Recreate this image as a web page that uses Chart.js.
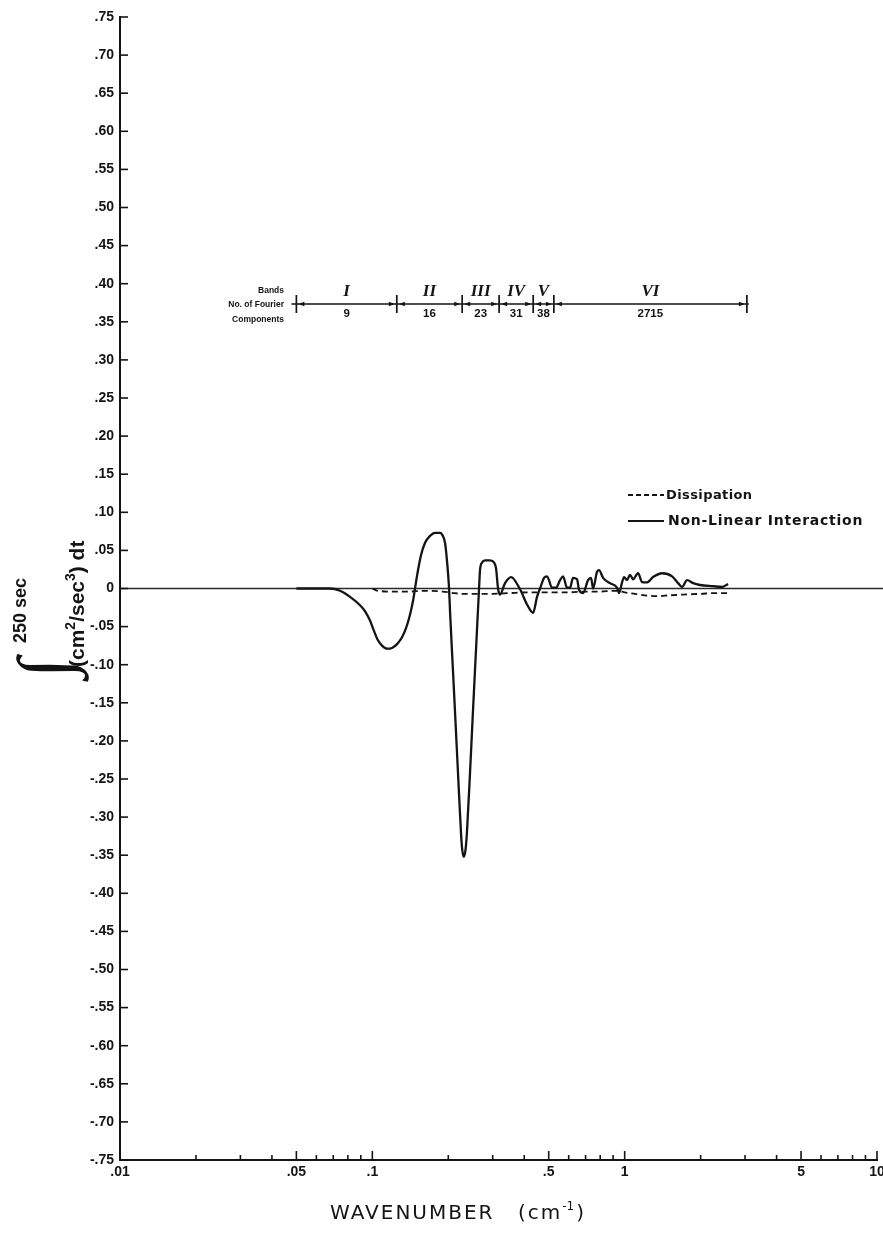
<!DOCTYPE html>
<html>
<head>
<meta charset="utf-8">
<script src="https://cdn.jsdelivr.net/npm/chart.js@4/dist/chart.umd.min.js"></script>
<style>
  html, body { margin: 0; padding: 0; background: #fff; }
  canvas { display: block; }
</style>
</head>
<body>
<canvas id="chart" width="883" height="1240"></canvas>
<script>
// Non-linear interaction term, integrated over 250 s, against wavenumber (cm^-1)
const interactionK = [0.05, 0.0566, 0.0679, 0.0745, 0.0816, 0.0894, 0.0936, 0.0979, 0.1016, 0.1053,
  0.1092, 0.1144, 0.1197, 0.1253, 0.1311, 0.1360, 0.1411, 0.1450, 0.1476, 0.1517,
  0.1560, 0.1618, 0.1693, 0.1772, 0.1855, 0.1888, 0.1941, 0.1978, 0.2014, 0.2032,
  0.2089, 0.2147, 0.2206, 0.2247, 0.2267, 0.2298, 0.2330, 0.2352, 0.2373, 0.2440,
  0.2506, 0.2576, 0.2648, 0.2673, 0.2722, 0.2797, 0.2927, 0.3038, 0.3093, 0.3149,
  0.3207, 0.3357, 0.3546, 0.3850, 0.4104, 0.4334, 0.4495, 0.4621, 0.4792, 0.4925,
  0.5155, 0.5346, 0.5546, 0.5700, 0.5910, 0.6074, 0.6243, 0.6475, 0.6596, 0.6841,
  0.7160, 0.7358, 0.7495, 0.7773, 0.7916, 0.8211, 0.8752, 0.9330, 0.9502, 0.9766,
  0.9945, 1.022, 1.050, 1.080, 1.130, 1.172, 1.227, 1.296, 1.407, 1.541,
  1.628, 1.689, 1.767, 1.867, 1.991, 2.241, 2.433, 2.570];
const interactionV = [0, 0, 0, -0.003, -0.011, -0.022, -0.030, -0.042, -0.056, -0.068,
  -0.075, -0.079, -0.078, -0.073, -0.064, -0.052, -0.034, -0.016, 0, 0.024,
  0.044, 0.060, 0.069, 0.073, 0.073, 0.071, 0.060, 0.035, 0, -0.030,
  -0.110, -0.190, -0.270, -0.322, -0.340, -0.352, -0.347, -0.336, -0.318, -0.240,
  -0.160, -0.080, 0, 0.025, 0.034, 0.037, 0.037, 0.034, 0.026, 0,
  -0.008, 0.007, 0.015, -0.001, -0.021, -0.032, -0.011, 0, 0.014, 0.016,
  0.001, 0.001, 0.011, 0.016, 0.001, 0.001, 0.014, 0.012, -0.002, -0.006,
  0.011, 0.014, 0.000, 0.022, 0.024, 0.014, 0.007, 0.001, -0.006, 0.008,
  0.015, 0.011, 0.018, 0.012, 0.020, 0.0085, 0.008, 0.015, 0.020, 0.016,
  0.007, 0.002, 0.011, 0.007, 0.0046, 0.003, 0.002, 0.006];

// Dissipation term over the same interval
const dissipationK = [0.1, 0.105, 0.12, 0.14, 0.16, 0.19, 0.21, 0.23, 0.26, 0.3,
  0.35, 0.42, 0.5, 0.6, 0.7, 0.8, 0.9, 0.95, 1.0, 1.1,
  1.2, 1.35, 1.5, 1.7, 2.0, 2.3, 2.57];
const dissipationV = [0, -0.003, -0.004, -0.004, -0.003, -0.004, -0.006, -0.007, -0.007, -0.007,
  -0.006, -0.005, -0.005, -0.005, -0.004, -0.004, -0.003, -0.003, -0.005, -0.007,
  -0.009, -0.010, -0.009, -0.008, -0.007, -0.006, -0.006];

// Axis ticks
const yTickLabels = ['.75', '.70', '.65', '.60', '.55', '.50', '.45', '.40', '.35', '.30',
  '.25', '.20', '.15', '.10', '.05', '0', '-.05', '-.10', '-.15', '-.20',
  '-.25', '-.30', '-.35', '-.40', '-.45', '-.50', '-.55', '-.60', '-.65', '-.70', '-.75'];
const xTickValues = [0.01, 0.02, 0.03, 0.04, 0.05, 0.06, 0.07, 0.08, 0.09,
  0.1, 0.2, 0.3, 0.4, 0.5, 0.6, 0.7, 0.8, 0.9,
  1, 2, 3, 4, 5, 6, 7, 8, 9, 10];
const xTickLabelText = { '0.01': '.01', '0.05': '.05', '0.1': '.1', '0.5': '.5', '1': '1', '5': '5', '10': '10' };

// Wavenumber bands and their number of Fourier components
const bandEdges = [0.05, 0.125, 0.227, 0.318, 0.434, 0.524, 3.05];
const bandNames = ['I', 'II', 'III', 'IV', 'V', 'VI'];
const bandComponents = ['9', '16', '23', '31', '38', '2715'];

const INK = '#141414';
const SANS = '"Liberation Sans", Arial, sans-serif';
const WIDE = '"DejaVu Sans", Verdana, sans-serif';
const SERIF = '"Liberation Serif", "Times New Roman", serif';

function pairs(ks, vs) { return ks.map((k, i) => ({ x: k, y: vs[i] })); }

function line(ctx, x1, y1, x2, y2) {
  ctx.beginPath(); ctx.moveTo(x1, y1); ctx.lineTo(x2, y2); ctx.stroke();
}

function arrow(ctx, tipX, y, dir) {
  // dir = -1 points left, +1 points right
  ctx.beginPath();
  ctx.moveTo(tipX, y);
  ctx.lineTo(tipX - dir * 6, y - 2.3);
  ctx.lineTo(tipX - dir * 6, y + 2.3);
  ctx.closePath();
  ctx.fill();
}

const decorations = {
  id: 'decorations',
  beforeDatasetsDraw(chart) {
    const { ctx, chartArea } = chart;
    const ys = chart.scales.y;
    const y0 = ys.getPixelForValue(0);
    ctx.save();
    ctx.strokeStyle = '#2a2a2a';
    ctx.lineWidth = 1.5;
    line(ctx, chartArea.left, y0, chart.width, y0);
    ctx.restore();
  },
  afterDraw(chart) {
    const { ctx, chartArea } = chart;
    const xs = chart.scales.x, ys = chart.scales.y;
    ctx.save();
    ctx.strokeStyle = INK;
    ctx.fillStyle = INK;

    // inward tick marks
    ctx.lineWidth = 1.6;
    ys.ticks.forEach(t => {
      const py = ys.getPixelForValue(t.value);
      line(ctx, chartArea.left, py, chartArea.left + 8, py);
    });
    xs.ticks.forEach(t => {
      const px = xs.getPixelForValue(t.value);
      const len = xTickLabelText[String(t.value)] ? 9 : 5;
      line(ctx, px, chartArea.bottom, px, chartArea.bottom - len);
    });

    // band ruler
    const by = 304;
    const ex = bandEdges.map(k => xs.getPixelForValue(k));
    ctx.lineWidth = 1.3;
    line(ctx, ex[0] - 5, by, ex[ex.length - 1] + 2, by);
    ctx.lineWidth = 1.7;
    ex.forEach(px => line(ctx, px, by - 9, px, by + 9));
    for (let i = 0; i < ex.length - 1; i++) {
      arrow(ctx, ex[i] + 2, by, -1);
      arrow(ctx, ex[i + 1] - 2, by, 1);
    }
    ctx.textAlign = 'center';
    ctx.textBaseline = 'middle';
    for (let i = 0; i < bandNames.length; i++) {
      const cx = xs.getPixelForValue(Math.sqrt(bandEdges[i] * bandEdges[i + 1]));
      ctx.font = 'italic bold 17px ' + SERIF;
      ctx.fillText(bandNames[i], cx, 292);
      ctx.font = 'bold 11.5px ' + SANS;
      ctx.fillText(bandComponents[i], cx, 314);
    }
    ctx.textAlign = 'right';
    ctx.font = 'bold 8.5px ' + SANS;
    ctx.fillText('Bands', 284, 291);
    ctx.fillText('No. of Fourier', 284, 305);
    ctx.fillText('Components', 284, 320);

    // legend
    ctx.lineWidth = 1.9;
    ctx.setLineDash([5, 3]);
    line(ctx, 628, 495, 664, 495);
    ctx.setLineDash([]);
    ctx.lineWidth = 2.2;
    line(ctx, 628, 521, 664, 521);
    ctx.textAlign = 'left';
    ctx.font = 'bold 13px ' + WIDE;
    ctx.letterSpacing = '0.4px';
    ctx.fillText('Dissipation', 666, 496);
    ctx.font = 'bold 14px ' + WIDE;
    ctx.letterSpacing = '0.75px';
    ctx.fillText('Non-Linear Interaction', 668, 521);

    // x-axis title
    ctx.textBaseline = 'alphabetic';
    ctx.font = '20px ' + WIDE;
    ctx.letterSpacing = '2px';
    ctx.fillText('WAVENUMBER', 330, 1219);
    let tx = 518;
    ctx.fillText('(cm', tx, 1219);
    tx += ctx.measureText('(cm').width;
    ctx.font = '12px ' + WIDE;
    ctx.letterSpacing = '0px';
    ctx.fillText('-1', tx, 1210);
    tx += ctx.measureText('-1').width + 2;
    ctx.font = '20px ' + WIDE;
    ctx.fillText(')', tx, 1219);

    // y-axis title, rotated
    ctx.save();
    ctx.translate(0, 680);
    ctx.rotate(-Math.PI / 2);
    ctx.font = 'italic 74px ' + SERIF;
    ctx.textBaseline = 'middle';
    ctx.fillText('\u222B', 2, 50);
    ctx.textBaseline = 'alphabetic';
    ctx.font = 'bold 18px ' + SANS;
    ctx.fillText('250 sec', 37, 26);
    let u = 13;
    const part = (s, size, rise) => {
      ctx.font = 'bold ' + size + 'px ' + SANS;
      ctx.fillText(s, u, 84 - rise);
      u += ctx.measureText(s).width;
    };
    part('(cm', 21, 0);
    part('2', 14, 9);
    part('/sec', 21, 0);
    part('3', 14, 9);
    part(') dt', 21, 0);
    ctx.restore();

    ctx.restore();
  }
};

new Chart(document.getElementById('chart'), {
  type: 'line',
  data: {
    datasets: [
      {
        label: 'Dissipation',
        data: pairs(dissipationK, dissipationV),
        borderColor: INK,
        borderWidth: 1.8,
        borderDash: [6, 4],
        pointRadius: 0,
        cubicInterpolationMode: 'monotone',
        fill: false
      },
      {
        label: 'Non-Linear Interaction',
        data: pairs(interactionK, interactionV),
        borderColor: INK,
        borderWidth: 2.3,
        pointRadius: 0,
        cubicInterpolationMode: 'monotone',
        fill: false
      }
    ]
  },
  options: {
    responsive: false,
    animation: false,
    devicePixelRatio: 1,
    layout: { padding: { top: 17, right: 6, left: 0, bottom: 0 } },
    plugins: { legend: { display: false }, tooltip: { enabled: false } },
    scales: {
      x: {
        type: 'logarithmic',
        min: 0.01,
        max: 10,
        afterBuildTicks: s => { s.ticks = xTickValues.map(v => ({ value: v })); },
        afterFit: s => { s.height = 80; s.paddingLeft = 0; s.paddingRight = 0; },
        ticks: {
          autoSkip: false, maxRotation: 0, minRotation: 0, padding: 4,
          color: INK, font: { family: SANS, size: 14, weight: 'bold' },
          callback: v => xTickLabelText[String(v)] || ''
        },
        grid: { display: false, drawTicks: false },
        border: { display: true, color: INK, width: 2 }
      },
      y: {
        min: -0.75,
        max: 0.75,
        afterBuildTicks: s => {
          s.ticks = yTickLabels.map(t => ({ value: parseFloat(t) })).sort((a, b) => a.value - b.value);
        },
        afterFit: s => { s.width = 120; },
        ticks: {
          autoSkip: false, padding: 6,
          color: INK, font: { family: SANS, size: 14, weight: 'bold' },
          callback: v => yTickLabels.find(t => Math.abs(parseFloat(t) - v) < 1e-9) || ''
        },
        grid: { display: false, drawTicks: false },
        border: { display: true, color: INK, width: 2 }
      }
    }
  },
  plugins: [decorations]
});
</script>
</body>
</html>
